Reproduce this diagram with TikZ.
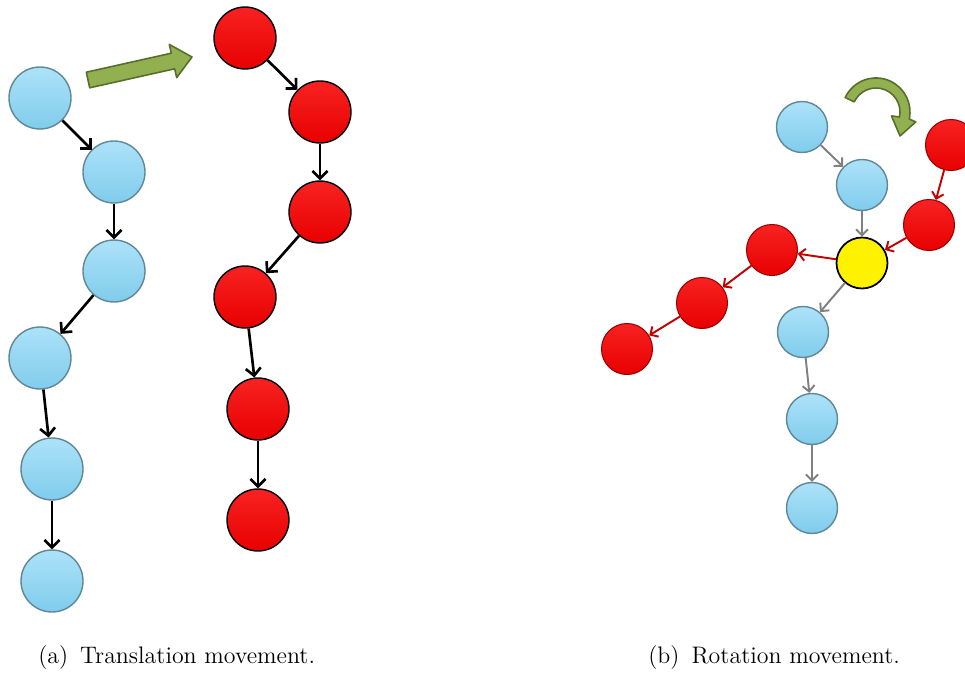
\documentclass[tikz,border=0pt]{standalone}
\usepackage{xcolor}
\usepackage{tikz}
\usetikzlibrary{arrows.meta,positioning}
\definecolor{skyfill}{RGB}{128,204,236}
\definecolor{skytop}{RGB}{172,226,248}
\definecolor{skyedge}{RGB}{96,136,152}
\definecolor{redfill}{RGB}{232,0,0}
\definecolor{redtop}{RGB}{248,34,34}
\definecolor{redline}{RGB}{196,0,0}
\definecolor{grayline}{RGB}{128,128,128}
\definecolor{leaf}{RGB}{146,176,80}
\definecolor{leafedge}{RGB}{84,112,44}

\begin{document}
\begin{tikzpicture}[
    x=0.02cm, y=-0.02cm,
    bball/.style={circle,draw=skyedge,line width=0.8pt,top color=skytop,bottom color=skyfill,minimum size=1.24cm,inner sep=0pt},
    rball/.style={circle,draw=black,line width=0.8pt,top color=redtop,bottom color=redfill,minimum size=1.24cm,inner sep=0pt},
    bsmall/.style={bball,minimum size=1.02cm},
    rsmall/.style={circle,draw=redline!80!black,line width=0.6pt,top color=redtop,bottom color=redfill,minimum size=1.02cm,inner sep=0pt},
    pivot/.style={circle,draw=black,line width=1pt,fill=yellow,minimum size=1.02cm,inner sep=0pt},
    link/.style={-{Straight Barb[length=1.5mm,width=3mm]},line width=1.5pt,black},
    glink/.style={-{Straight Barb[length=1.2mm,width=2.4mm]},line width=1.1pt,grayline},
    rlink/.style={-{Straight Barb[length=1.2mm,width=2.4mm]},line width=1.1pt,redline},
    blockarrow/.style={draw=leafedge,line width=0.9pt,fill=leaf,line join=round},
    caption/.style={font=\fontsize{13.6}{16}\selectfont,inner sep=0pt}
]
\clip (0,0) rectangle (965,683);

% (a) translation
\node[bball] (b1) at (40,98) {};
\node[bball] (b2) at (114,172) {};
\node[bball] (b3) at (114,271) {};
\node[bball] (b4) at (40,358) {};
\node[bball] (b5) at (52,469) {};
\node[bball] (b6) at (52,581) {};

\node[rball] (r1) at (245,38) {};
\node[rball] (r2) at (320,112) {};
\node[rball] (r3) at (320,212) {};
\node[rball] (r4) at (245,297) {};
\node[rball] (r5) at (258,409) {};
\node[rball] (r6) at (258,520) {};

\draw[link] (b1) -- (b2);
\draw[link] (b2) -- (b3);
\draw[link] (b3) -- (b4);
\draw[link] (b4) -- (b5);
\draw[link] (b5) -- (b6);
\draw[link] (r1) -- (r2);
\draw[link] (r2) -- (r3);
\draw[link] (r3) -- (r4);
\draw[link] (r4) -- (r5);
\draw[link] (r5) -- (r6);

% straight move arrow
\draw[blockarrow] (86.3,72.2) -- (171.3,53.2) -- (169.3,44.4) -- (192,57)
    -- (176.7,77.6) -- (174.7,68.8) -- (89.7,87.8) -- cycle;

% (b) rotation
\node[bsmall] (tb1) at (802,127) {};
\node[bsmall] (tb2) at (862,185) {};
\node[pivot] (piv) at (862,263) {};
\node[bsmall] (tb3) at (803,332) {};
\node[bsmall] (tb4) at (812,419) {};
\node[bsmall] (tb5) at (812,508) {};

\node[rsmall] (rr1) at (951,145) {};
\node[rsmall] (rr2) at (929,225) {};
\node[rsmall] (rl1) at (772,250) {};
\node[rsmall] (rl2) at (702,303) {};
\node[rsmall] (rl3) at (627,349) {};

\draw[glink] (tb1) -- (tb2);
\draw[glink] (tb2) -- (piv);
\draw[glink] (piv) -- (tb3);
\draw[glink] (tb3) -- (tb4);
\draw[glink] (tb4) -- (tb5);
\draw[rlink] (rr1) -- (rr2);
\draw[rlink] (rr2) -- (piv);
\draw[rlink] (piv) -- (rl1);
\draw[rlink] (rl1) -- (rl2);
\draw[rlink] (rl2) -- (rl3);

% turning arrow
\draw[blockarrow] (845.2,97.6) arc[start angle=155,end angle=-12,radius=0.68cm]
    -- (915.8,121.9) -- (900,136) -- (891.5,115.9) -- (899.5,117)
    arc[start angle=-12,end angle=155,radius=0.48cm] -- cycle;

% captions
\node[caption,anchor=base west] (capA) at (38,663) {(a)\enspace Translation movement.};
\node[caption,anchor=base west] (capB) at (648,663) {(b)\enspace Rotation movement.};
\end{tikzpicture}
\end{document}
